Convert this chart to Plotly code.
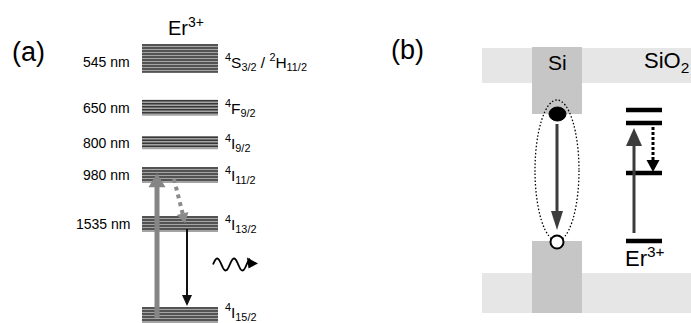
import numpy as np
import plotly.graph_objects as go

# ---------------- data ----------------
# Panel (a): Er3+ energy levels (band centre and half-width, cm^-1)
level_terms = [
    "<sup>4</sup>I<sub>15/2</sub>",
    "<sup>4</sup>I<sub>13/2</sub>",
    "<sup>4</sup>I<sub>11/2</sub>",
    "<sup>4</sup>I<sub>9/2</sub>",
    "<sup>4</sup>F<sub>9/2</sub>",
    "<sup>4</sup>S<sub>3/2</sub> / <sup>2</sup>H<sub>11/2</sub>",
]
level_wavelength = ["", "1535 nm", "980 nm", "800 nm", "650 nm", "545 nm"]
level_energy = [0, 6500, 10000, 12300, 14800, 18350]
level_halfwidth = [570, 570, 570, 460, 570, 1000]

# Panel (b): Si nanocluster in SiO2 and Er3+ levels (arbitrary energy units)
sio2_cb = [24.0, 27.5]     # SiO2 conduction-band strip
sio2_vb = [1.0, 5.0]       # SiO2 valence-band strip
si_cb = [20.9, 27.6]       # Si conduction band
si_vb = [1.0, 8.2]         # Si valence band
er_levels_b = [8.2, 15.0, 20.0, 21.3]

# ---------------- geometry ----------------
W, H = 691, 323
YA = (-571.4, 22500.0)     # energy axis of panel (a)
YB = (0.0, 32.3)           # energy axis of panel (b)


def to_px(v, rng):
    lo, hi = rng
    return (hi - v) / (hi - lo) * H


def from_px(p, rng):
    lo, hi = rng
    return hi - p / H * (hi - lo)


FONT = "Liberation Sans, Arial, sans-serif"
shapes = []
annotations = []


def label(x, y, text, size, xanchor="center", yref="paper", yshift=0):
    annotations.append(dict(x=x, y=y, xref="x", yref=yref, text=text, showarrow=False,
                            xanchor=xanchor, yanchor="middle", yshift=yshift,
                            font=dict(family=FONT, size=size, color="#000")))


def arrow(x0, y0, x1, y1, yref, rng, color, width, head_w, head_l, dash=None):
    """Straight arrow from (x0,y0) to tip (x1,y1); x in px, y in data units."""
    p0 = np.array([x0, to_px(y0, rng)])
    p1 = np.array([x1, to_px(y1, rng)])
    d = p1 - p0
    d = d / np.hypot(*d)
    n = np.array([-d[1], d[0]])
    base = p1 - d * head_l
    shapes.append(dict(type="line", xref="x", yref=yref,
                       x0=p0[0], y0=from_px(p0[1], rng),
                       x1=base[0] + d[0], y1=from_px(base[1] + d[1], rng),
                       line=dict(color=color, width=width, dash=dash or "solid")))
    a = base + n * head_w / 2
    b = base - n * head_w / 2
    path = "M {},{} L {},{} L {},{} Z".format(
        p1[0], from_px(p1[1], rng), a[0], from_px(a[1], rng), b[0], from_px(b[1], rng))
    shapes.append(dict(type="path", xref="x", yref=yref, path=path,
                       fillcolor=color, line=dict(width=0)))


fig = go.Figure()

# ---------------- panel (a) ----------------
BAND_X0, BAND_X1 = 142, 218
stripe_x, stripe_y = [], []
for e, hw in zip(level_energy, level_halfwidth):
    lo, hi = e - hw, e + hw
    shapes.append(dict(type="rect", xref="x", yref="y", layer="below",
                       x0=BAND_X0, x1=BAND_X1, y0=lo, y1=hi,
                       fillcolor="#a4a4a4", line=dict(width=0)))
    top_px, bot_px = to_px(hi, YA), to_px(lo, YA)
    for p in np.arange(top_px + 1.0, bot_px, 3.0):
        stripe_x += [BAND_X0, BAND_X1, None]
        stripe_y += [from_px(p, YA)] * 2 + [None]

fig.add_trace(go.Scatter(x=stripe_x, y=stripe_y, mode="lines", xaxis="x", yaxis="y",
                         line=dict(color="#383838", width=1.5),
                         hoverinfo="skip", showlegend=False))

for term, wl, e in zip(level_terms, level_wavelength, level_energy):
    if e > 18000:
        ys = -4
    elif e == 0:
        ys = 3
    else:
        ys = 0
    if wl:
        label(132, e, wl, 14, xanchor="right", yref="y", yshift=ys)
    label(223, e, term, 15.5, xanchor="left", yref="y", yshift=ys)

label(186, 27, "Er<sup>3+</sup>", 20)
label(28, 52, "(a)", 27)

# excitation 4I15/2 -> 4I11/2
arrow(157, level_energy[0] - 210, 157, level_energy[2] + 130, "y", YA,
      "#858585", 5, 17, 14)
# non-radiative relaxation 4I11/2 -> 4I13/2
arrow(174, level_energy[2] - 280, 185, level_energy[1] + 60, "y", YA,
      "#8a8a8a", 4, 12, 10, dash="4px,4px")
# emission 4I13/2 -> 4I15/2
arrow(187, level_energy[1] - 360, 187, level_energy[0] + 640, "y", YA,
      "#111111", 2, 10, 11)

# emitted photon (wavy arrow)
wy = to_px((level_energy[0] + level_energy[1]) / 2, YA) - 5
t = np.linspace(0, 1, 90)
wx = 213 + 37 * t
wyy = wy - 6 * np.sin(2 * np.pi * 2.2 * t)
wpath = "M " + " L ".join("{:.2f},{:.3f}".format(a, from_px(b, YA)) for a, b in zip(wx, wyy))
shapes.append(dict(type="path", xref="x", yref="y", path=wpath,
                   line=dict(color="#000", width=1.8)))
shapes.append(dict(type="path", xref="x", yref="y",
                   path="M 258,{} L 247,{} L 248.5,{} Z".format(
                       from_px(wy - 1, YA), from_px(wy - 7, YA), from_px(wy + 4, YA)),
                   fillcolor="#000", line=dict(width=0)))

# ---------------- panel (b) ----------------
for lo, hi in (sio2_cb, sio2_vb):
    shapes.append(dict(type="rect", xref="x", yref="y2", layer="below",
                       x0=482, x1=W, y0=lo, y1=hi, fillcolor="#e6e6e6", line=dict(width=0)))
for lo, hi in (si_cb, si_vb):
    shapes.append(dict(type="rect", xref="x", yref="y2", layer="below",
                       x0=532, x1=582, y0=lo, y1=hi, fillcolor="#c6c6c6", line=dict(width=0)))

label(557, 62, "Si", 21)
label(642, 62, "SiO<sub>2</sub>", 22, xanchor="left")
label(407, 50, "(b)", 27)

# exciton: dotted envelope, electron, hole, recombination arrow
shapes.append(dict(type="circle", xref="x", yref="y2", x0=535, x1=579,
                   y0=from_px(241, YB), y1=from_px(100, YB),
                   line=dict(color="#000", width=1.3, dash="1.5px,2px")))
arrow(557, si_cb[0] - 1.0, 557, si_vb[1] + 1.1, "y2", YB, "#3c3c3c", 3, 12, 19)
shapes.append(dict(type="circle", xref="x", yref="y2", x0=549, x1=566,
                   y0=si_cb[0] - 0.7, y1=si_cb[0] + 0.7,
                   fillcolor="#000", line=dict(color="#000", width=1)))
shapes.append(dict(type="circle", xref="x", yref="y2", x0=550.5, x1=563.5,
                   y0=si_vb[1] - 0.75, y1=si_vb[1] + 0.55,
                   fillcolor="#fff", line=dict(color="#000", width=2)))

# Er3+ levels and transitions
for e in er_levels_b:
    shapes.append(dict(type="rect", xref="x", yref="y2", x0=626, x1=662,
                       y0=e - 0.23, y1=e + 0.23, fillcolor="#000", line=dict(width=0)))
arrow(634, er_levels_b[0] + 0.8, 634, er_levels_b[2] - 0.5, "y2", YB, "#3c3c3c", 3, 16, 18)
arrow(653, er_levels_b[2] - 0.4, 653, er_levels_b[1] + 0.1, "y2", YB, "#000", 3, 13, 12,
      dash="3px,2px")
label(623, 257, "Er<sup>3+</sup>", 22, xanchor="left")

# pixel rows -> paper fraction for paper-anchored labels
for a in annotations:
    if a.get("yref") == "paper":
        a["y"] = 1 - a["y"] / H

fig.update_layout(
    width=W, height=H, margin=dict(l=0, r=0, t=0, b=0),
    paper_bgcolor="#fff", plot_bgcolor="#fff",
    xaxis=dict(range=[0, W], visible=False, fixedrange=True),
    yaxis=dict(range=list(YA), visible=False, fixedrange=True),
    yaxis2=dict(range=list(YB), visible=False, fixedrange=True, overlaying="y"),
    shapes=shapes, annotations=annotations, showlegend=False,
)
fig.write_html("out.html")
